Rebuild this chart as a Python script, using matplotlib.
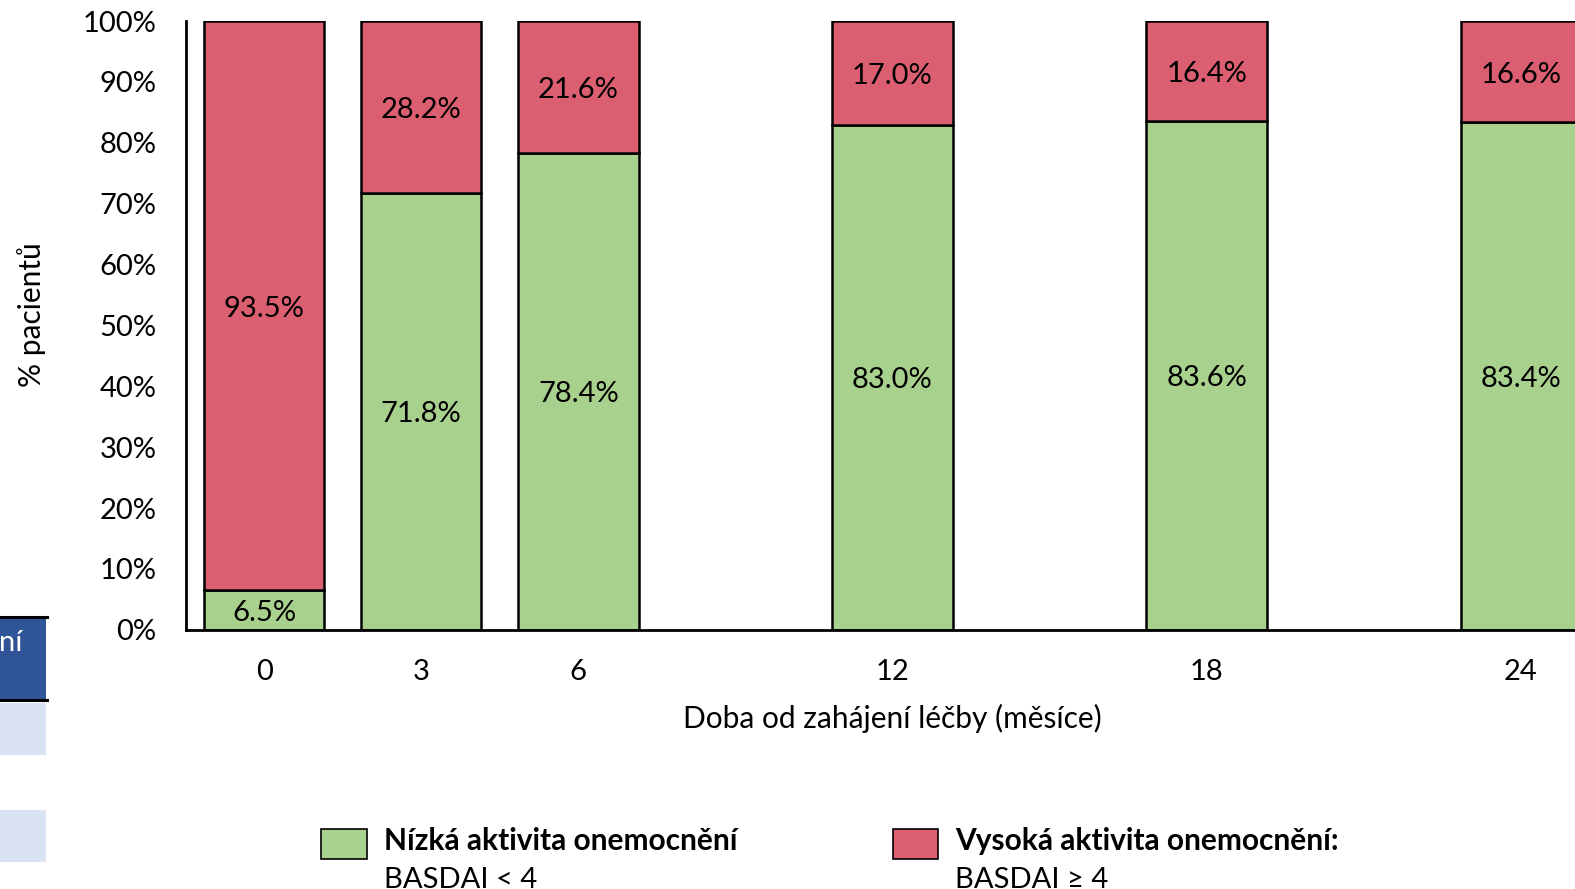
import matplotlib
matplotlib.use("Agg")
import matplotlib.pyplot as plt
from matplotlib.patches import Rectangle
from matplotlib.ticker import PercentFormatter, FixedLocator

plt.rcParams['font.family'] = ['Lato', 'DejaVu Sans']

# Months since start of treatment and share of patients in each activity group
months = [0, 3, 6, 12, 18, 24]
month_labels = ['0', '3', '6', '12', '18', '24']
low_activity = [6.5, 71.8, 78.4, 83.0, 83.6, 83.4]     # BASDAI < 4
high_activity = [93.5, 28.2, 21.6, 17.0, 16.4, 16.6]   # BASDAI >= 4

GREEN = '#A9D18E'
RED = '#DB5F70'
NAVY = '#2F5597'
PALE = '#DAE3F3'

# Layout is worked out on a 1568 x 885 grid and scaled to the output size
GW, GH = 1568, 885
W, H = 1575, 889
FS = 21

fig = plt.figure(figsize=(W / 100, H / 100), dpi=100)


def fx(px):
    return px / GW


def fy(py):
    return 1 - py / GH


# Edge of a neighbouring table on the slide
fig.patches.append(Rectangle((0, fy(698)), fx(46), fy(614) - fy(698),
                             transform=fig.transFigure, facecolor=NAVY,
                             edgecolor='none', zorder=0))
for top, bot in [(700, 752), (806, 858)]:
    fig.patches.append(Rectangle((0, fy(bot)), fx(46), fy(top) - fy(bot),
                                 transform=fig.transFigure, facecolor=PALE,
                                 edgecolor='none', zorder=0))
for yy in (614, 697):
    fig.add_artist(plt.Line2D([0, fx(47)], [fy(yy), fy(yy)],
                              transform=fig.transFigure, color='black', lw=2.2))
fig.text(fx(-1), fy(640), 'ní', color='white', fontsize=FS,
         ha='left', va='center')

ax = fig.add_axes([fx(185), fy(627), 1 - fx(185), fy(21) - fy(627)])

bar_w = 2.30
ax.bar(months, low_activity, width=bar_w, color=GREEN, edgecolor='black',
       linewidth=1.8, zorder=2)
ax.bar(months, high_activity, width=bar_w, bottom=low_activity, color=RED,
       edgecolor='black', linewidth=1.8, zorder=2)

for m, lo, hi in zip(months, low_activity, high_activity):
    for yv, val in ((lo / 2, lo), (lo + hi / 2, hi)):
        ax.annotate(f'{val:.1f}%', (m, yv), xytext=(0, -2.2),
                    textcoords='offset points', ha='center', va='center',
                    fontsize=FS, zorder=3)

# 0 months sits 78 px right of the spine, 24 months 1251 px further on
px_per_month = (1514 - 263) / 24
x_left = -(263 - 185) / px_per_month
x_right = x_left + (GW - 185) / px_per_month
ax.set_xlim(x_left, x_right)
ax.set_ylim(0, 100)
ax.yaxis.set_major_locator(FixedLocator(range(0, 101, 10)))
ax.yaxis.set_major_formatter(PercentFormatter(decimals=0))
ax.set_xticks(months)
ax.set_xticklabels(month_labels)
ax.tick_params(axis='both', length=0, labelsize=FS)
ax.tick_params(axis='y', pad=21)
ax.tick_params(axis='x', pad=21)

for side in ('top', 'right'):
    ax.spines[side].set_visible(False)
for side in ('left', 'bottom'):
    ax.spines[side].set_linewidth(2)

fig.text(fx(888), fy(715), 'Doba od zahájení léčby (měsíce)', ha='center',
         va='center', fontsize=FS + 0.5)
fig.text(fx(31), fy(313), '% pacientů', ha='center', va='center',
         rotation=90, fontsize=FS + 0.5)

# Legend drawn as two swatches with two-line captions
for x0, col, title, sub in [
        (320, GREEN, 'Nízká aktivita onemocnění', 'BASDAI < 4'),
        (889, RED, 'Vysoká aktivita onemocnění:', 'BASDAI ≥ 4')]:
    fig.patches.append(Rectangle((fx(x0), fy(855)), fx(45), fy(825) - fy(855),
                                 transform=fig.transFigure, facecolor=col,
                                 edgecolor='black', linewidth=1.2))
    fig.text(fx(x0 + 62), fy(837), title, ha='left', va='center',
             fontsize=FS + 0.5, fontweight='bold')
    fig.text(fx(x0 + 62), fy(876), sub, ha='left', va='center',
             fontsize=FS)

fig.savefig('out.png', dpi=100)
